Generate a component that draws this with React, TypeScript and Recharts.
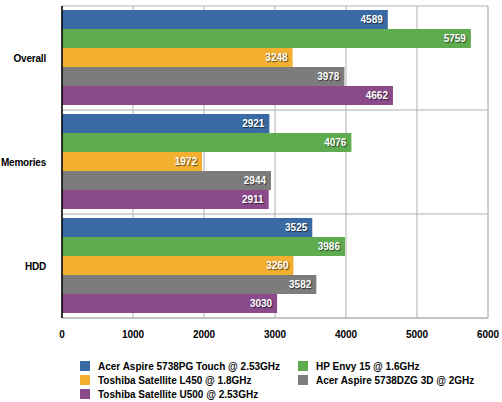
import React from "react";
import { BarChart, Bar, XAxis, YAxis, CartesianGrid, LabelList } from "recharts";

const categories = ["Overall", "Memories", "HDD"];
const seriesNames = [
  "Acer Aspire 5738PG Touch @ 2.53GHz",
  "HP Envy 15 @ 1.6GHz",
  "Toshiba Satellite L450 @ 1.8GHz",
  "Acer Aspire 5738DZG 3D @ 2GHz",
  "Toshiba Satellite U500 @ 2.53GHz",
];
const seriesColors = ["#3A6AA3", "#5EAB50", "#F2AF30", "#7C7C7C", "#8A4A8C"];
const acer5738pg = [4589, 2921, 3525];
const hpEnvy = [5759, 4076, 3986];
const toshibaL450 = [3248, 1972, 3260];
const acer5738dzg = [3978, 2944, 3582];
const toshibaU500 = [4662, 2911, 3030];
const xTicks = [0, 1000, 2000, 3000, 4000, 5000, 6000];
const minorTicks = [0, 500, 1000, 1500, 2000, 2500, 3000, 3500, 4000, 4500, 5000, 5500, 6000];

const seriesValues = [acer5738pg, hpEnvy, toshibaL450, acer5738dzg, toshibaU500];
const keys = ["s0", "s1", "s2", "s3", "s4"];
const data = categories.map((name, i) => {
  const row: any = { name };
  keys.forEach((k, j) => (row[k] = seriesValues[j][i]));
  return row;
});

const FONT = '"Liberation Sans", Arial, Helvetica, sans-serif';

const renderValue = (p: any) => {
  const vb = p.viewBox && p.viewBox.width !== undefined ? p.viewBox : p;
  const x = vb.x + vb.width - 5;
  const y = vb.y + vb.height / 2;
  return (
    <text
      x={x}
      y={y}
      textAnchor="end"
      dominantBaseline="central"
      fill="#fff"
      fontFamily={FONT}
      fontWeight="bold"
      fontSize={10}
      style={{ textShadow: "1px 1px 1px rgba(0,0,0,0.6)" }}
    >
      {p.value}
    </text>
  );
};

export default function App() {
  return (
    <div style={{ position: "absolute", left: 0, top: 0, width: 502, height: 402, background: "#fff", fontFamily: FONT }}>
      <BarChart
        width={502}
        height={402}
        data={data}
        layout="vertical"
        margin={{ top: 6, right: 14, left: 0, bottom: 54 }}
        barCategoryGap={4}
        barGap={0}
      >
        <CartesianGrid horizontal={false} stroke="#dcdcdc" xAxisId="minor" />
        <CartesianGrid
          stroke="#b0b0b0"
          horizontalCoordinatesGenerator={({ offset }: any) =>
            [0, 1, 2, 3].map((i) => offset.top + (offset.height * i) / categories.length)
          }
        />
        <XAxis xAxisId="minor" type="number" domain={[0, 6000]} ticks={minorTicks} hide />
        <XAxis
          type="number"
          domain={[0, 6000]}
          ticks={xTicks}
          axisLine={{ stroke: "#b0b0b0" }}
          tickLine={false}
          tickSize={6}
          tickMargin={7}
          height={30}
          tick={{ fill: "#000", fontSize: 10, fontWeight: "bold", fontFamily: FONT }}
        />
        <YAxis
          type="category"
          dataKey="name"
          width={62}
          axisLine={{ stroke: "#000", strokeWidth: 1.5 }}
          tickLine={false}
          tickSize={8}
          tickMargin={8}
          tick={{ fill: "#000", fontSize: 10, fontWeight: "bold", fontFamily: FONT, letterSpacing: -0.2 }}
        />
        {keys.map((k, j) => (
          <Bar key={k} dataKey={k} name={seriesNames[j]} fill={seriesColors[j]} isAnimationActive={false}>
            <LabelList dataKey={k} content={renderValue} />
          </Bar>
        ))}
      </BarChart>
      <div
        style={{
          position: "absolute",
          left: 80,
          top: 360,
          width: 420,
          display: "grid",
          gridTemplateColumns: "218px 200px",
          rowGap: 2,
          fontSize: 10,
          fontWeight: "bold",
          color: "#000",
        }}
      >
        {seriesNames.map((n, j) => (
          <div key={n} style={{ display: "flex", alignItems: "center", height: 12 }}>
            <span style={{ display: "inline-block", width: 10, height: 10, background: seriesColors[j], marginRight: 8 }} />
            <span style={{ whiteSpace: "nowrap" }}>{n}</span>
          </div>
        ))}
      </div>
    </div>
  );
}
